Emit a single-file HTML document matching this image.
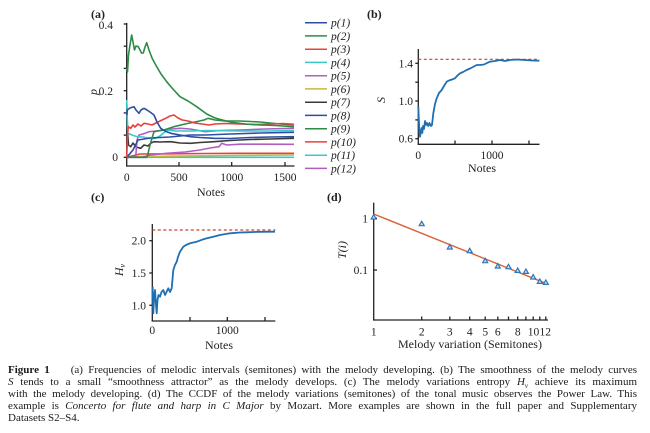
<!DOCTYPE html>
<html>
<head>
<meta charset="utf-8">
<style>
  html, body { margin:0; padding:0; background:#fff; }
  body { width:650px; height:433px; position:relative; overflow:hidden; }
  svg { position:absolute; left:0; top:0; }
  svg text { font-family:"Liberation Serif", serif; fill:#222; }
  .cap { position:absolute; left:8px; width:629px; font-family:"Liberation Serif", serif; font-size:11px; color:#1a1a1a; white-space:nowrap; text-align:justify; text-align-last:justify; line-height:12px; }
  .cap.last { text-align-last:left; }
</style>
</head>
<body>
<svg width="650" height="433" viewBox="0 0 650 433" xmlns="http://www.w3.org/2000/svg">
  <!-- Panel (a) -->
  <text x="91" y="18" font-size="12" font-weight="bold">(a)</text>
  <g stroke="#222" stroke-width="1.3" fill="none">
    <line x1="126.7" y1="23" x2="126.7" y2="166.5"/>
    <line x1="126" y1="166" x2="294.5" y2="166"/>
    <line x1="123.7" y1="24" x2="126.7" y2="24"/>
    <line x1="123.7" y1="46.2" x2="126.7" y2="46.2"/>
    <line x1="123.7" y1="68.4" x2="126.7" y2="68.4"/>
    <line x1="123.7" y1="90.7" x2="126.7" y2="90.7"/>
    <line x1="123.7" y1="112.9" x2="126.7" y2="112.9"/>
    <line x1="123.7" y1="135.1" x2="126.7" y2="135.1"/>
    <line x1="123.7" y1="157.3" x2="126.7" y2="157.3"/>
    <line x1="179" y1="166" x2="179" y2="162"/>
    <line x1="231.7" y1="166" x2="231.7" y2="162"/>
    <line x1="285" y1="166" x2="285" y2="162"/>
  </g>
  <g font-size="11.5" text-anchor="end">
    <text x="113" y="29">0.4</text>
    <text x="113" y="95">0.2</text>
    <text x="118" y="161">0</text>
  </g>
  <text x="97" y="92" font-size="12" font-style="italic" transform="rotate(-90 97 92)" text-anchor="middle">p</text>
  <g font-size="11.5" text-anchor="middle">
    <text x="126.7" y="181">0</text>
    <text x="179" y="181">500</text>
    <text x="231.7" y="181">1000</text>
    <text x="285" y="181">1500</text>
    <text x="211" y="196" font-size="12">Notes</text>
  </g>
  <g fill="none" stroke-width="1.6" stroke-linejoin="round">
    <polyline stroke="#3cc8c8" points="126.7,157.3 294,157.3"/>
    <polyline stroke="#c8b840" points="126.7,157.3 140,156.5 180,156 230,155.5 294,155"/>
    <polyline stroke="#e8413c" points="126.7,157.3 140,154 170,153.8 205,153.5 240,153.3 294,153.3"/>
    <polyline stroke="#b05fc0" points="126.7,157.3 143,157 150,155 160,154 166.7,153.3 185,152 200,150 210,148 219,146.7 221.7,143.3 226.7,145 240,144.2 260,144.2 294,144.3"/>
    <polyline stroke="#3a3a3a" points="126.7,103 127.5,130 128.5,145 130.7,146.7 133,143 136,147 140.7,148.3 144,145 148,146 151,143 154,141.7 160,142 170.7,141.7 180,143 190.7,143.3 200,142.5 214,141.7 230,140.5 250,139.5 270,139 294,138.3"/>
    <polyline stroke="#b05fc0" points="126.7,157.3 135.7,157 137,140 139,135 143,134 149,131.7 156,131 164,130 172,129 180.7,128.3 190,129 205,131.7 220,130.5 240,130 265,129 294,128.3"/>
    <polyline stroke="#3cc8c8" points="126.7,100 127.3,120 127.8,133.3 132,135 137.3,136.7 143,137 149,138.3 155,138.5 160,136 167.3,130 175,131 190,131 210,130.5 240,131 270,131 294,130.5"/>
    <polyline stroke="#2a4fa3" points="126.7,157.3 133,150 138,140 150,138 170,137 190,135 205,135 230,134 260,133 294,132.3"/>
    <polyline stroke="#2e8b47" points="126.7,157.3 146,157.3 147.3,156.7 150,145 154,131.7 158,131 164,130 170,128 174,126.7 185,124 195,122 204,120 208,118.3 215,120 225,121 240,121 260,122 280,124 294,125"/>
    <polyline stroke="#e8413c" points="126.7,157.3 127.5,135 128.3,126.7 130.7,128.3 133,125 135,127 138,124 141,126 144,123.3 148,124 152,125 156,123 160,121 165.7,118.3 170,116 174,115 178,118 182.3,120 188,121 195,123 202,124 209,125 215,124 225,123.5 240,124 255,124.5 270,124 283,123.5 294,124.3"/>
    <polyline stroke="#2a4fa3" points="126.7,115 127.3,110 130,108 134,106.7 136,110 139,113.3 141,110 144,108.3 147,110 150,112 154,115 157,122 160.7,128.3 165,131 170.7,133.3 180,135 190.7,136.7 200,137.5 214,138.3 230,138.5 250,137.5 270,137 294,136.7"/>
    <polyline stroke="#2e8b47" points="126.7,68 127.5,72 128.5,55 130,45 131.7,35 133,42 134.5,50 136,46 138.3,46.7 140,50 141.5,53 143.3,53 145,47 146.7,42.7 149,50 152,58 156.7,66.7 161,74 166.7,81.7 172,88 180,96.7 188,101 196.7,106.7 206.7,114 215,118 230,122 245,124 260,125 275,125.5 294,126.7"/>
  </g>
  <!-- legend -->
  <g stroke-width="1.5">
    <line x1="305" y1="22.7" x2="327" y2="22.7" stroke="#2a4fa3"/>
    <line x1="305" y1="35.9" x2="327" y2="35.9" stroke="#2e8b47"/>
    <line x1="305" y1="49.2" x2="327" y2="49.2" stroke="#e8413c"/>
    <line x1="305" y1="62.4" x2="327" y2="62.4" stroke="#3cc8c8"/>
    <line x1="305" y1="75.7" x2="327" y2="75.7" stroke="#b05fc0"/>
    <line x1="305" y1="88.9" x2="327" y2="88.9" stroke="#c8b840"/>
    <line x1="305" y1="102.2" x2="327" y2="102.2" stroke="#3a3a3a"/>
    <line x1="305" y1="115.4" x2="327" y2="115.4" stroke="#2a4fa3"/>
    <line x1="305" y1="128.7" x2="327" y2="128.7" stroke="#2e8b47"/>
    <line x1="305" y1="141.9" x2="327" y2="141.9" stroke="#e8413c"/>
    <line x1="305" y1="155.2" x2="327" y2="155.2" stroke="#3cc8c8"/>
    <line x1="305" y1="168.4" x2="327" y2="168.4" stroke="#b05fc0"/>
  </g>
  <g font-size="11.5" font-style="italic">
    <text x="331" y="26.7">p(1)</text>
    <text x="331" y="39.9">p(2)</text>
    <text x="331" y="53.2">p(3)</text>
    <text x="331" y="66.4">p(4)</text>
    <text x="331" y="79.7">p(5)</text>
    <text x="331" y="92.9">p(6)</text>
    <text x="331" y="106.2">p(7)</text>
    <text x="331" y="119.4">p(8)</text>
    <text x="331" y="132.7">p(9)</text>
    <text x="331" y="145.9">p(10)</text>
    <text x="331" y="159.2">p(11)</text>
    <text x="331" y="172.4">p(12)</text>
  </g>

  <!-- Panel (b) -->
  <text x="367" y="18" font-size="12" font-weight="bold">(b)</text>
  <g stroke="#222" stroke-width="1.3" fill="none">
    <line x1="418.3" y1="49" x2="418.3" y2="144.7"/>
    <line x1="417.7" y1="144.3" x2="539.5" y2="144.3"/>
    <line x1="415.3" y1="63.3" x2="418.3" y2="63.3"/>
    <line x1="415.3" y1="82.2" x2="418.3" y2="82.2"/>
    <line x1="415.3" y1="101" x2="418.3" y2="101"/>
    <line x1="415.3" y1="119.9" x2="418.3" y2="119.9"/>
    <line x1="415.3" y1="138.7" x2="418.3" y2="138.7"/>
    <line x1="455" y1="144.3" x2="455" y2="140.5"/>
    <line x1="492" y1="144.3" x2="492" y2="140.5"/>
    <line x1="529" y1="144.3" x2="529" y2="140.5"/>
  </g>
  <g font-size="11.5" text-anchor="end">
    <text x="413" y="67.3">1.4</text>
    <text x="413" y="105">1.0</text>
    <text x="413" y="142.7">0.6</text>
  </g>
  <text x="385" y="100" font-size="12" font-style="italic" transform="rotate(-90 385 100)" text-anchor="middle">S</text>
  <g font-size="11.5" text-anchor="middle">
    <text x="418.3" y="159">0</text>
    <text x="492" y="159">1000</text>
    <text x="482" y="172" font-size="12">Notes</text>
  </g>
  <line x1="418.3" y1="59.3" x2="539.5" y2="59.3" stroke="#c8442c" stroke-width="1.2" stroke-dasharray="3,2.5"/>
  <polyline fill="none" stroke="#1f6fb4" stroke-width="1.8" stroke-linejoin="round" points="418.3,106.7 418.8,118 419.3,130 420,136.7 420.7,133 421.5,128 422.3,133 423,126 424,129 425,121 426,125 427,123 428.3,126 429.5,123 431,126 432,125 433.3,113.3 435,104 436.7,98.3 439,93 441.7,90 444,86 446.7,81.7 449,80.5 452,79.5 455,78.3 457,76 460,73.3 463,72 466.7,70 470,68.5 473,67 476.7,65 480,65 484,64.5 487,63 490,61.7 495,61 500,60 505,61 510,60 516.7,59.5 525,60 532,60.5 539.3,60.7"/>

  <!-- Panel (c) -->
  <text x="91" y="201" font-size="12" font-weight="bold">(c)</text>
  <g stroke="#222" stroke-width="1.3" fill="none">
    <line x1="152.3" y1="224" x2="152.3" y2="321.5"/>
    <line x1="151.7" y1="321" x2="275.3" y2="321"/>
    <line x1="149.3" y1="240.7" x2="152.3" y2="240.7"/>
    <line x1="149.3" y1="273" x2="152.3" y2="273"/>
    <line x1="149.3" y1="305.3" x2="152.3" y2="305.3"/>
    <line x1="190" y1="321" x2="190" y2="317"/>
    <line x1="227.3" y1="321" x2="227.3" y2="317"/>
    <line x1="265" y1="321" x2="265" y2="317"/>
  </g>
  <g font-size="11.5" text-anchor="end">
    <text x="146" y="244.7">2.0</text>
    <text x="146" y="277">1.5</text>
    <text x="146" y="309.3">1.0</text>
  </g>
  <text x="123" y="270" font-size="12" font-style="italic" transform="rotate(-90 123 270)" text-anchor="middle">H<tspan font-size="8" dy="2">v</tspan></text>
  <g font-size="11.5" text-anchor="middle">
    <text x="152.3" y="334">0</text>
    <text x="227.3" y="334">1000</text>
    <text x="219" y="349" font-size="12">Notes</text>
  </g>
  <line x1="152.3" y1="230" x2="275.3" y2="230" stroke="#c8442c" stroke-width="1.2" stroke-dasharray="3,2.5"/>
  <polyline fill="none" stroke="#1f6fb4" stroke-width="1.8" stroke-linejoin="round" points="152.7,286.7 153.3,313.3 154,300 155,290 156,305 156.7,313.3 157.5,300 158.5,295 160,296.7 161.5,292 163.3,290 165,295 166.5,292 168.3,288.3 170,292 171.7,288.3 173.3,270 175,265 176.7,261.7 178,257 180,251.7 183.3,246.7 186,245 190,243.3 196.7,241.7 203.3,239.3 208,238 213.3,236.7 220,235 230,233.3 240,232.5 246.7,232.3 260,231.8 275,231.7"/>

  <!-- Panel (d) -->
  <text x="327" y="201" font-size="12" font-weight="bold">(d)</text>
  <g stroke="#222" stroke-width="1.3" fill="none">
    <line x1="373.7" y1="202.7" x2="373.7" y2="320.5"/>
    <line x1="373" y1="320" x2="548" y2="320"/>
    <line x1="373.7" y1="218.3" x2="377" y2="218.3"/>
    <line x1="373.7" y1="270" x2="377" y2="270"/>
    <line x1="421.7" y1="320" x2="421.7" y2="316.5"/>
    <line x1="449.8" y1="320" x2="449.8" y2="316.5"/>
    <line x1="469.7" y1="320" x2="469.7" y2="316.5"/>
    <line x1="485.2" y1="320" x2="485.2" y2="316.5"/>
    <line x1="497.8" y1="320" x2="497.8" y2="316.5"/>
    <line x1="508.5" y1="320" x2="508.5" y2="316.5"/>
    <line x1="517.7" y1="320" x2="517.7" y2="316.5"/>
    <line x1="525.9" y1="320" x2="525.9" y2="316.5"/>
    <line x1="533.2" y1="320" x2="533.2" y2="316.5"/>
    <line x1="539.8" y1="320" x2="539.8" y2="316.5"/>
    <line x1="545.8" y1="320" x2="545.8" y2="316.5"/>
  </g>
  <g font-size="11.5" text-anchor="end">
    <text x="368" y="222.3">1</text>
    <text x="368" y="274">0.1</text>
  </g>
  <text x="346" y="250" font-size="12" font-style="italic" transform="rotate(-90 346 250)" text-anchor="middle">T(i)</text>
  <g font-size="11.5" text-anchor="middle">
    <text x="373.7" y="335.5">1</text>
    <text x="421.7" y="335.5">2</text>
    <text x="449.8" y="335.5">3</text>
    <text x="469.7" y="335.5">4</text>
    <text x="485.2" y="335.5">5</text>
    <text x="497.8" y="335.5">6</text>
    <text x="517.7" y="335.5">8</text>
    <text x="533.5" y="335.5">10</text>
    <text x="545.3" y="335.5">12</text>
    <text x="470" y="348" font-size="12">Melody variation (Semitones)</text>
  </g>
  <line x1="373.7" y1="214" x2="545.8" y2="283.3" stroke="#d9623b" stroke-width="1.4"/>
  <g fill="#cfe3f5" stroke="#2e75b6" stroke-width="1.2">
    <polygon points="373.7,214.6 371.2,219 376.2,219"/>
    <polygon points="421.7,221.3 419.2,225.7 424.2,225.7"/>
    <polygon points="449.8,244.6 447.3,249 452.3,249"/>
    <polygon points="469.7,248.3 467.2,252.7 472.2,252.7"/>
    <polygon points="485.2,258.3 482.7,262.7 487.7,262.7"/>
    <polygon points="497.8,263.6 495.3,268 500.3,268"/>
    <polygon points="508.5,264.3 506,268.7 511,268.7"/>
    <polygon points="517.7,268 515.2,272.4 520.2,272.4"/>
    <polygon points="525.9,269 523.4,273.4 528.4,273.4"/>
    <polygon points="533.2,274.6 530.7,279 535.7,279"/>
    <polygon points="539.8,279 537.3,283.4 542.3,283.4"/>
    <polygon points="545.8,280 543.3,284.4 548.3,284.4"/>
  </g>
</svg>

<div class="cap" style="top:364px;"><b>Figure 1</b>&nbsp;&nbsp;&nbsp; (a) Frequencies of melodic intervals (semitones) with the melody developing. (b) The smoothness of the melody curves</div>
<div class="cap" style="top:376px;"><i>S</i> tends to a small “smoothness attractor” as the melody develops. (c) The melody variations entropy <i>H<sub style="font-size:7px">v</sub></i> achieve its maximum</div>
<div class="cap" style="top:388px;">with the melody developing. (d) The CCDF of the melody variations (semitones) of the tonal music observes the Power Law. This</div>
<div class="cap" style="top:400px;">example is <i>Concerto for flute and harp in C Major</i> by Mozart. More examples are shown in the full paper and Supplementary</div>
<div class="cap last" style="top:412px;">Datasets S2–S4.</div>
</body>
</html>
